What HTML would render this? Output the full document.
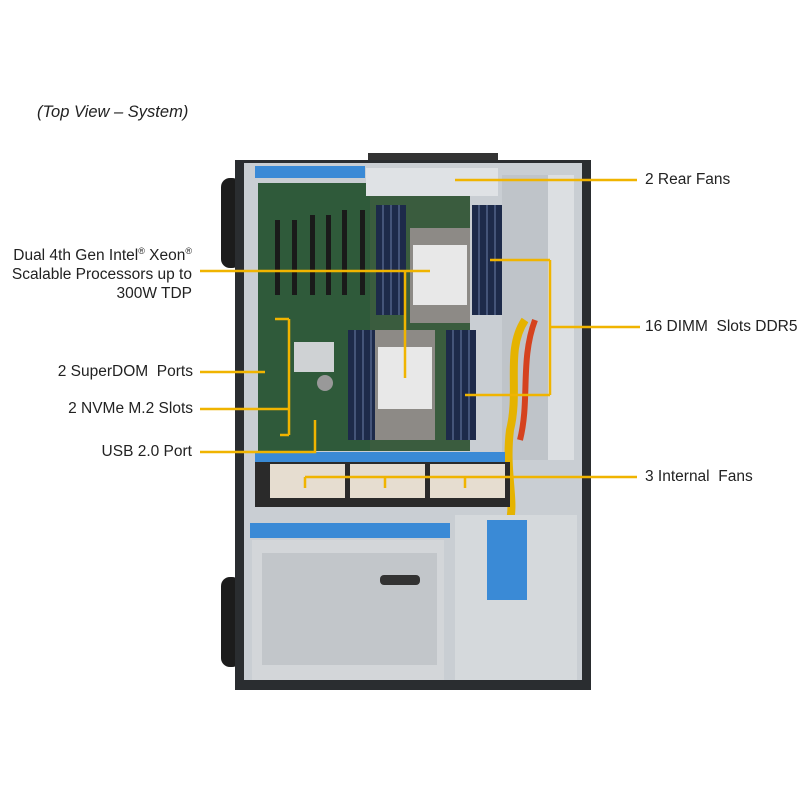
<!DOCTYPE html>
<html><head><meta charset="utf-8"><style>
body{margin:0;width:800px;height:800px;background:#fff;position:relative;overflow:hidden;font-family:"Liberation Sans",Arial,sans-serif;color:#222}
.t{position:absolute;font-size:15.5px;line-height:19px;white-space:nowrap}
.r{text-align:right}
sup{font-size:9px}
</style></head><body>
<svg width="800" height="800" style="position:absolute;left:0;top:0">
<rect x="221" y="178" width="20" height="90" rx="9" fill="#1c1c1c"/>
<rect x="221" y="577" width="20" height="90" rx="9" fill="#1c1c1c"/>
<rect x="368" y="153" width="130" height="10" fill="#333"/>
<rect x="235" y="160" width="356" height="530" fill="#2a2d30"/>
<rect x="244" y="163" width="338" height="518" fill="#c9ced3"/>
<rect x="258" y="183" width="212" height="268" fill="#3a5c3e"/>
<rect x="258" y="183" width="112" height="268" fill="#2f5a3a"/>
<rect x="255" y="166" width="110" height="12" fill="#3a8ad6"/>
<g fill="#1a1a1a"><rect x="275" y="220" width="5" height="75"/><rect x="292" y="220" width="5" height="75"/><rect x="310" y="215" width="5" height="80"/><rect x="326" y="215" width="5" height="80"/><rect x="342" y="210" width="5" height="85"/><rect x="360" y="210" width="5" height="85"/></g>
<rect x="366" y="168" width="132" height="28" fill="#dfe2e5"/>
<g fill="#1d2a4a">
<rect x="376" y="205" width="30" height="110"/><rect x="472" y="205" width="30" height="110"/>
<rect x="348" y="330" width="30" height="110"/><rect x="446" y="330" width="30" height="110"/>
</g>
<g stroke="#6b7fa8" stroke-width="1">
<path d="M383 205V315M391 205V315M399 205V315M479 205V315M487 205V315M495 205V315M355 330V440M363 330V440M371 330V440M453 330V440M461 330V440M469 330V440"/>
</g>
<rect x="410" y="228" width="60" height="95" fill="#8d8a86"/>
<rect x="413" y="245" width="54" height="60" fill="#e8e8e8"/>
<rect x="375" y="330" width="60" height="110" fill="#8d8a86"/>
<rect x="378" y="347" width="54" height="62" fill="#e8e8e8"/>
<rect x="294" y="342" width="40" height="30" fill="#cfd2d4"/>
<circle cx="325" cy="383" r="8" fill="#999"/>
<rect x="502" y="175" width="46" height="285" fill="#bfc4c9"/>
<rect x="548" y="175" width="26" height="285" fill="#dcdfe2"/>
<path d="M525 320 C505 350 520 390 510 430 C505 470 515 500 510 520" stroke="#e5b300" stroke-width="8" fill="none"/>
<path d="M535 320 C520 360 530 400 520 440" stroke="#d5421e" stroke-width="6" fill="none"/>
<rect x="255" y="452" width="250" height="10" fill="#3a8ad6"/>
<rect x="255" y="462" width="255" height="45" fill="#2a2a2a"/>
<rect x="270" y="464" width="75" height="34" fill="#e6ddd0"/>
<rect x="350" y="464" width="75" height="34" fill="#e6ddd0"/>
<rect x="430" y="464" width="75" height="34" fill="#e6ddd0"/>
<rect x="250" y="523" width="200" height="15" fill="#3a8ad6"/>
<rect x="252" y="540" width="192" height="140" fill="#d3d6d9"/>
<rect x="262" y="553" width="175" height="112" fill="#c2c6ca"/>
<rect x="380" y="575" width="40" height="10" rx="4" fill="#333"/>
<rect x="455" y="515" width="122" height="165" fill="#d5d9dc"/>
<rect x="487" y="520" width="40" height="80" fill="#3a8ad6"/>
<rect x="236" y="680" width="354" height="10" fill="#2a2d30"/>
<g stroke="#f0b400" stroke-width="2.5" fill="none">
<path d="M455 180 H637"/>
<path d="M640 327 H550 M550 260 V395 M490 260 H550 M465 395 H550"/>
<path d="M200 271 H430 M405 271 V378"/>
<path d="M200 372 H265"/>
<path d="M200 409 H289 M289 319 V435 M275 319 H289 M280 435 H289"/>
<path d="M200 452 H315 V420"/>
<path d="M305 477 H637 M305 477 V488 M385 477 V488 M465 477 V488"/>
</g>
</svg>
<div class="t" style="left:37px;top:103px;font-style:italic;font-size:16.5px">(Top View – System)</div>
<div class="t" style="left:645px;top:170px">2 Rear Fans</div>
<div class="t" style="left:645px;top:317px">16 DIMM&nbsp; Slots DDR5</div>
<div class="t" style="left:645px;top:467px">3 Internal&nbsp; Fans</div>
<div class="t r" style="right:608px;top:242px">Dual 4th Gen Intel<sup>®</sup> Xeon<sup>®</sup><br>Scalable Processors up to<br>300W TDP</div>
<div class="t r" style="right:607px;top:362px">2 SuperDOM&nbsp; Ports</div>
<div class="t r" style="right:607px;top:399px">2 NVMe M.2 Slots</div>
<div class="t r" style="right:608px;top:442px">USB 2.0 Port</div>
</body></html>
